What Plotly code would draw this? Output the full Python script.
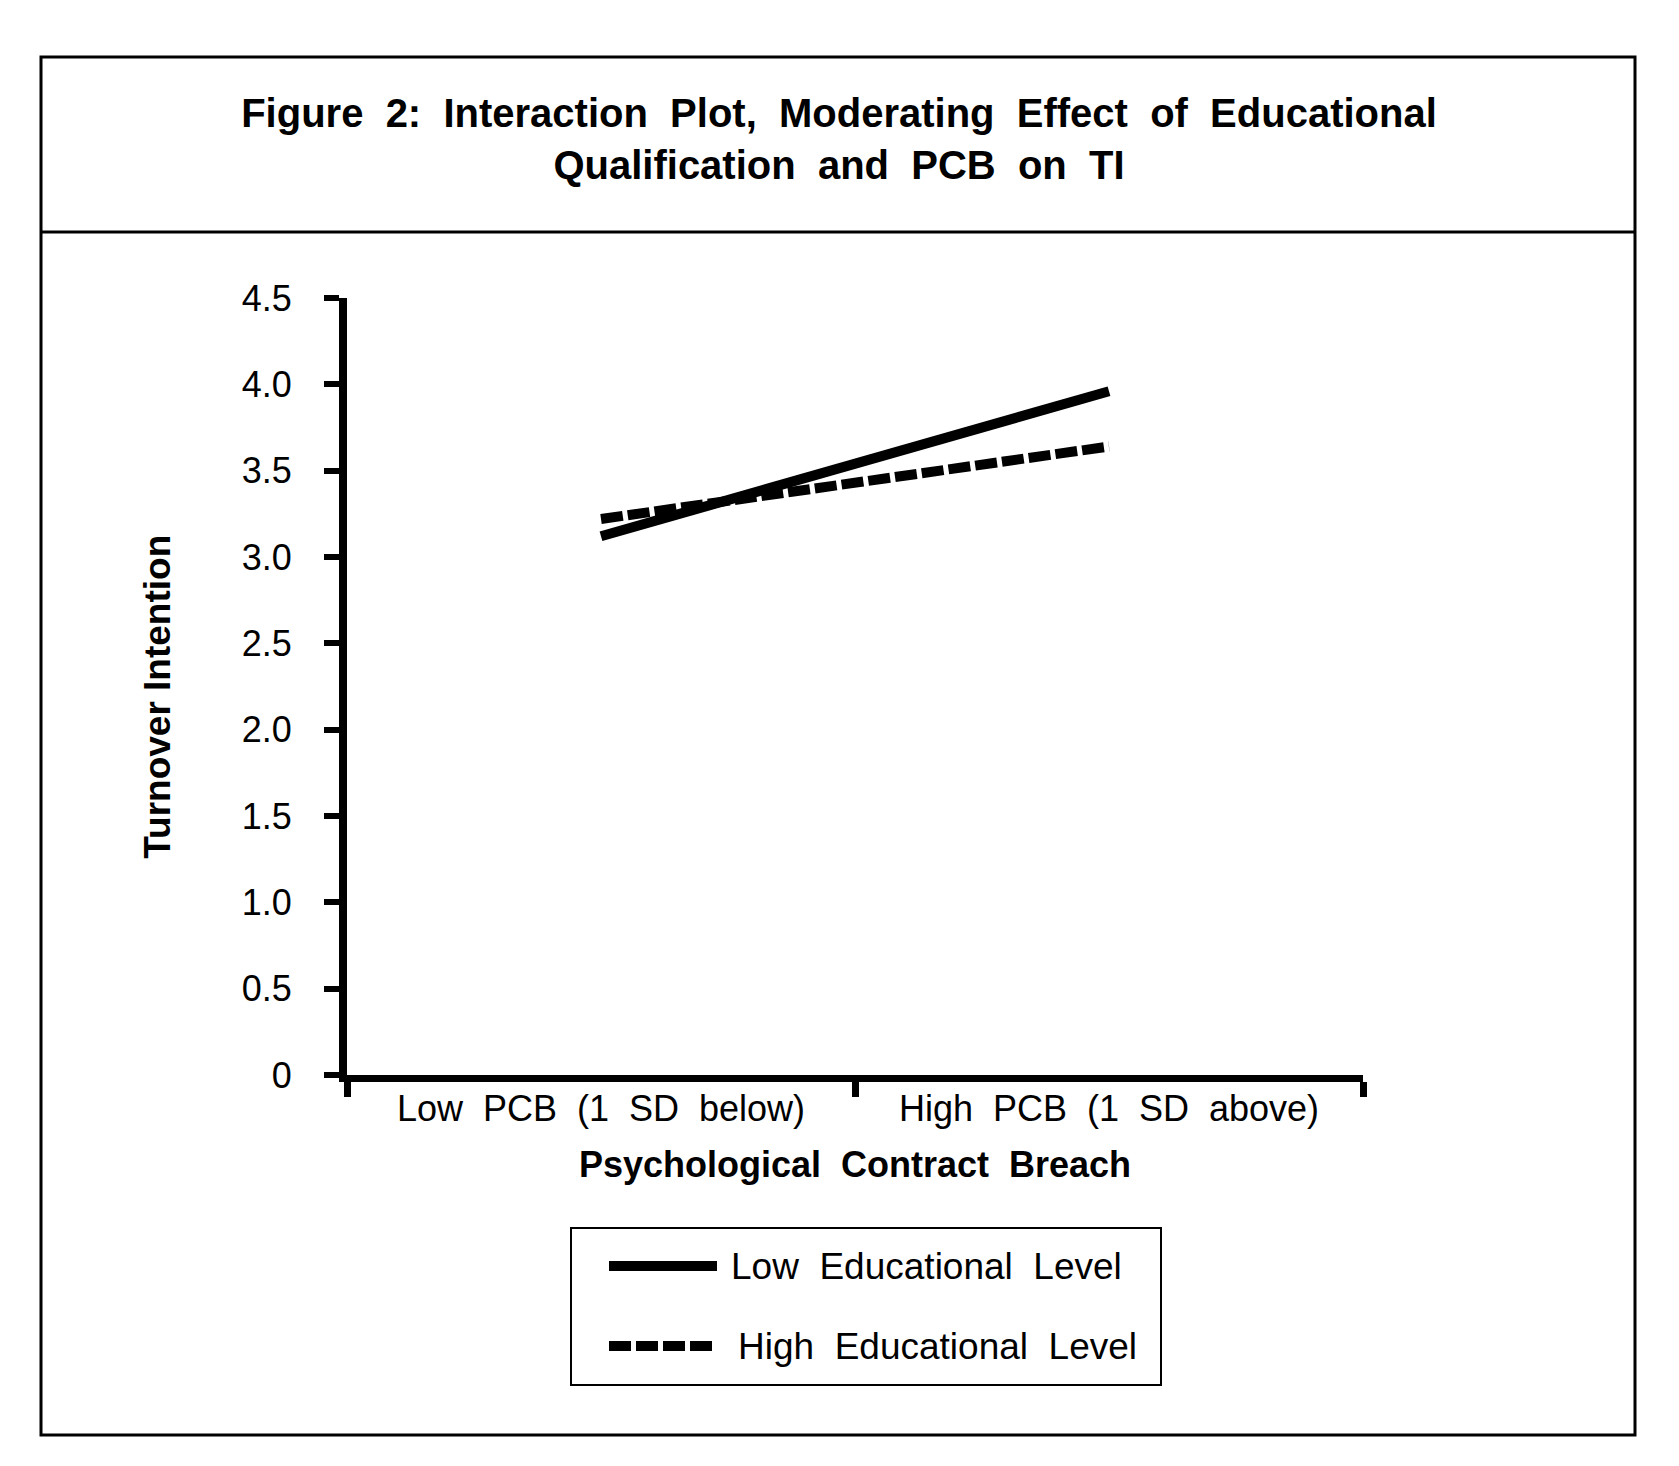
import plotly.graph_objects as go

# ---- data ----
categories = ["Low PCB (1 SD below)", "High PCB (1 SD above)"]
tick_labels = ["Low\u00a0 PCB\u00a0 (1\u00a0 SD\u00a0 below)", "High\u00a0 PCB\u00a0 (1\u00a0 SD\u00a0 above)"]
low_edu = [3.12, 3.96]
high_edu = [3.22, 3.64]
y_ticks = [0, 0.5, 1.0, 1.5, 2.0, 2.5, 3.0, 3.5, 4.0, 4.5]
y_tick_text = ["0", "0.5", "1.0", "1.5", "2.0", "2.5", "3.0", "3.5", "4.0", "4.5"]
series_names = ["Low\u00a0 Educational\u00a0 Level", "High\u00a0 Educational\u00a0 Level"]

W, H = 1679, 1466
L, R, T, B = 339, 1355, 290, 1067  # plot area in px (figure coords)
FONT = "Liberation Sans, Arial, Helvetica, sans-serif"


def px(x):
    return (x - L) / (R - L)


def py(y):
    return (B - y) / (B - T)


fig = go.Figure()
fig.add_trace(go.Scatter(x=categories, y=low_edu, mode="lines", name=series_names[0],
                         line=dict(color="black", width=10), showlegend=False))
fig.add_trace(go.Scatter(x=categories, y=high_edu, mode="lines", name=series_names[1],
                         line=dict(color="black", width=10, dash="22px,5px"), showlegend=False))

shapes = []
# outer frame
shapes.append(dict(type="rect", xref="paper", yref="paper", x0=px(33), x1=px(1627), y0=py(49), y1=py(1427),
                   line=dict(color="black", width=3), fillcolor="rgba(0,0,0,0)", layer="below"))
# title divider
shapes.append(dict(type="line", xref="paper", yref="paper", x0=px(33), x1=px(1627), y0=py(224), y1=py(224),
                   line=dict(color="black", width=3)))
# legend box
shapes.append(dict(type="rect", xref="paper", yref="paper", x0=px(563), x1=px(1153), y0=py(1220), y1=py(1377),
                   line=dict(color="black", width=2), fillcolor="rgba(0,0,0,0)"))
# legend samples
shapes.append(dict(type="line", xref="paper", yref="paper", x0=px(601), x1=px(709), y0=py(1258), y1=py(1258),
                   line=dict(color="black", width=10)))
shapes.append(dict(type="line", xref="paper", yref="paper", x0=px(601), x1=px(709), y0=py(1338), y1=py(1338),
                   line=dict(color="black", width=10, dash="22px,5px")))

annotations = [
    dict(xref="paper", yref="paper", x=px(721), y=py(1258), text=series_names[0], showarrow=False,
         xanchor="left", yanchor="middle", font=dict(size=37, color="black", family=FONT)),
    dict(xref="paper", yref="paper", x=px(728), y=py(1338), text=series_names[1], showarrow=False,
         xanchor="left", yanchor="middle", font=dict(size=37, color="black", family=FONT)),
]

fig.update_layout(
    width=W, height=H, autosize=False,
    margin=dict(l=L, r=W - R, t=T, b=H - B, pad=0),
    paper_bgcolor="white", plot_bgcolor="white",
    font=dict(family=FONT, color="black", size=36),
    title=dict(
        text="<b>Figure\u00a0 2:\u00a0 Interaction\u00a0 Plot,\u00a0 Moderating\u00a0 Effect"
             "\u00a0 of\u00a0 Educational"
             "<br>Qualification\u00a0 and\u00a0 PCB\u00a0 on\u00a0 TI</b>",
        x=831 / W, xref="container", xanchor="center",
        y=1 - 119 / H, yref="container", yanchor="middle",
        font=dict(size=40, family=FONT, color="black"),
    ),
    xaxis=dict(
        type="category", categoryorder="array", categoryarray=categories,
        range=[-0.5, 1.5], tickmode="array", tickvals=categories, ticktext=tick_labels,
        tickson="boundaries", ticks="outside", ticklen=15, tickwidth=7, tickcolor="black",
        showline=True, linewidth=7, linecolor="black", showgrid=False, zeroline=False,
        tickfont=dict(size=36, family=FONT, color="black"), ticklabelstandoff=-4,
        title=dict(text="<b>Psychological\u00a0 Contract\u00a0 Breach</b>", standoff=26,
                   font=dict(size=36, family=FONT, color="black")),
        fixedrange=True,
    ),
    yaxis=dict(
        range=[0, 4.5], tickmode="array", tickvals=y_ticks, ticktext=y_tick_text,
        ticks="outside", ticklen=15, tickwidth=6, tickcolor="black",
        showline=True, linewidth=8, linecolor="black", showgrid=False, zeroline=False,
        tickfont=dict(size=36, family=FONT, color="black"), ticklabelstandoff=25,
        title=dict(text="<b>Turnover Intention\u00a0\u00a0</b>", standoff=63,
                   font=dict(size=37, family=FONT, color="black")),
        fixedrange=True,
    ),
    shapes=shapes,
    annotations=annotations,
    showlegend=False,
)

fig.write_html("out.html")
